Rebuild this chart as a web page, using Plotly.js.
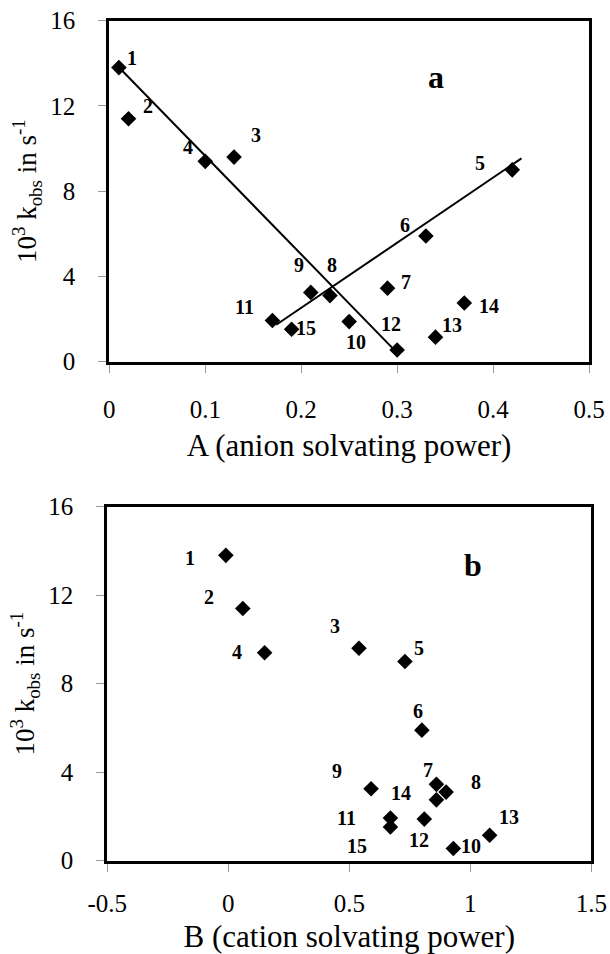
<!DOCTYPE html>
<html>
<head>
<meta charset="utf-8">
<script src="https://cdn.plot.ly/plotly-3.0.1.min.js"></script>
<style>html,body{margin:0;padding:0;background:#fff;}#chart{width:610px;height:954px;}</style>
</head>
<body>
<div id="chart"></div>
<script>
// ---- data ----
const labels = ['1','2','3','4','5','6','7','8','9','10','11','12','13','14','15'];
const solvA = [0.01, 0.02, 0.13, 0.10, 0.42, 0.33, 0.29, 0.23, 0.21, 0.25, 0.17, 0.30, 0.34, 0.37, 0.19];
const solvB = [-0.01, 0.06, 0.54, 0.15, 0.73, 0.80, 0.86, 0.90, 0.59, 0.81, 0.67, 0.93, 1.08, 0.86, 0.67];
const kobs  = [13.8, 11.4, 9.6, 9.4, 9.0, 5.9, 3.45, 3.1, 3.25, 1.88, 1.93, 0.55, 1.15, 2.75, 1.52];
// fitted trend lines in panel a
const fit1X = [0.0094, 0.296], fit1Y = [13.84, 0.6];
const fit2X = [0.174, 0.4296], fit2Y = [1.73, 9.54];
// tick labels
const tickA = [0, 0.1, 0.2, 0.3, 0.4, 0.5];
const tickAText = ['0', '0.1', '0.2', '0.3', '0.4', '0.5'];
const tickB = [-0.5, 0, 0.5, 1, 1.5];
const tickBText = ['-0.5', '0', '0.5', '1', '1.5'];
const tickK = [0, 4, 8, 12, 16];
const tickKText = ['0', '4', '8', '12', '16'];

// ---- label placement (pixel offsets: right, down) ----
const offA = [[13,-10],[19,-13],[22,-22],[-17,-14],[-32,-7],[-21,-11],[18,-6],[2,-31],[-12,-27],[7,20],[-28,-14],[-6,-26],[16,-12],[25,3],[14,-1]];
const offB = [[-36,3],[-34,-11],[-24,-22],[-28,-1],[14,-14],[-4,-19],[-8,-14],[30,-10],[-34,-18],[47,27],[-44,0],[-34,-9],[19,-18],[-35,-7],[-33,19]];

const FONT = '"Liberation Serif", "DejaVu Serif", serif';
const marker = {symbol: 'diamond', size: 12, color: '#000'};
const lineStyle = {color: '#000', width: 2};

const traces = [
  {x: fit1X, y: fit1Y, mode: 'lines', line: lineStyle, xaxis: 'x', yaxis: 'y', hoverinfo: 'skip'},
  {x: fit2X, y: fit2Y, mode: 'lines', line: lineStyle, xaxis: 'x', yaxis: 'y', hoverinfo: 'skip'},
  {x: solvA, y: kobs, mode: 'markers', marker: marker, xaxis: 'x', yaxis: 'y'},
  {x: solvB, y: kobs, mode: 'markers', marker: marker, xaxis: 'x2', yaxis: 'y2'}
];

const annotations = [];
labels.forEach((t, i) => {
  annotations.push({x: solvA[i], y: kobs[i], xref: 'x', yref: 'y', text: '<b>' + t + '</b>', showarrow: false,
    xshift: offA[i][0], yshift: -offA[i][1], font: {family: FONT, size: 20, color: '#000'}});
  annotations.push({x: solvB[i], y: kobs[i], xref: 'x2', yref: 'y2', text: '<b>' + t + '</b>', showarrow: false,
    xshift: offB[i][0], yshift: -offB[i][1], font: {family: FONT, size: 20, color: '#000'}});
});
annotations.push({x: 0.702, y: 0.894, xref: 'x domain', yref: 'y domain', text: '<b>a</b>', showarrow: false,
  font: {family: FONT, size: 32, color: '#000'}});
annotations.push({x: 0.778, y: 0.892, xref: 'x2 domain', yref: 'y2 domain', text: '<b>b</b>', showarrow: false,
  font: {family: FONT, size: 32, color: '#000'}});

const axisCommon = {
  showline: true, mirror: true, linecolor: '#000', linewidth: 3,
  ticks: 'outside', ticklen: 8, tickwidth: 1, tickcolor: '#999',
  showgrid: false, zeroline: false, tickmode: 'array',
  tickfont: {family: FONT, size: 25, color: '#000'}
};
const yTitle = {text: '10<sup>3</sup> k<sub>obs</sub> in s<sup>-1</sup>', font: {family: FONT, size: 27, color: '#000'}, standoff: 6};

const layout = {
  width: 610, height: 954,
  margin: {l: 0, r: 0, t: 0, b: 0},
  paper_bgcolor: '#fff', plot_bgcolor: '#fff',
  showlegend: false,
  font: {family: FONT, color: '#000'},
  xaxis: Object.assign({}, axisCommon, {domain: [0.1792, 0.9656], range: [0, 0.5], tickvals: tickA, ticktext: tickAText,
    ticklabelstandoff: 15, anchor: 'y',
    title: {text: 'A (anion solvating power)', font: {family: FONT, size: 31, color: '#000'}, standoff: 13}}),
  yaxis: Object.assign({}, axisCommon, {domain: [0.6209, 0.9783], range: [0, 16], tickvals: tickK, ticktext: tickKText,
    ticklabelstandoff: 18, anchor: 'x', title: yTitle}),
  xaxis2: Object.assign({}, axisCommon, {domain: [0.1759, 0.9693], range: [-0.5, 1.5], tickvals: tickB, ticktext: tickBText,
    ticklabelstandoff: 10, anchor: 'y2',
    title: {text: 'B (cation solvating power)', font: {family: FONT, size: 31, color: '#000'}, standoff: 10}}),
  yaxis2: Object.assign({}, axisCommon, {domain: [0.0978, 0.4689], range: [0, 16], tickvals: tickK, ticktext: tickKText,
    ticklabelstandoff: 18, anchor: 'x2', title: yTitle}),
  annotations: annotations
};

Plotly.newPlot('chart', traces, layout, {displayModeBar: false, staticPlot: true});
</script>
</body>
</html>
